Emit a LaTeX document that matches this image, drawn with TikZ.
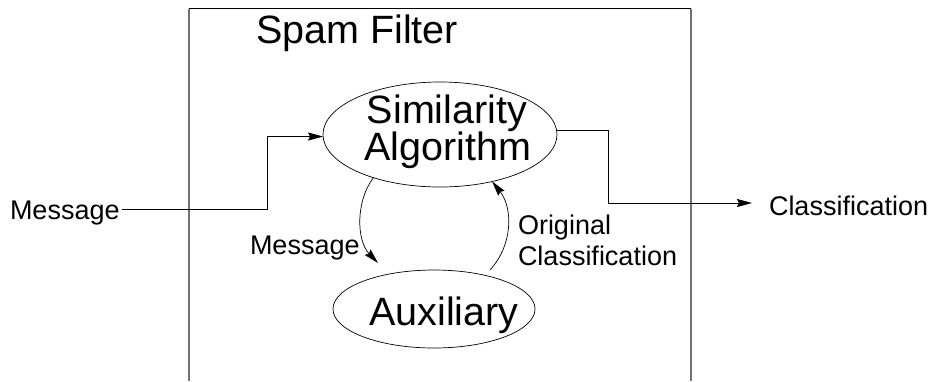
\documentclass[tikz,border=0pt]{standalone}
\usepackage{fontspec}
\setmainfont{Liberation Sans}
\usetikzlibrary{shapes.geometric,arrows.meta}
\begin{document}
\begin{tikzpicture}[x=1pt,y=-1pt,
  line width=0.7pt,
  big/.style={font=\fontsize{39.5}{40}\selectfont, inner sep=0pt, outer sep=0pt},
  small/.style={font=\fontsize{27}{31}\selectfont, inner sep=0pt, outer sep=0pt},
  oval/.style={draw, ellipse, inner sep=0pt, outer sep=0pt},
  arr/.style={-{Stealth[length=15pt,width=8pt,inset=2pt]}},
  boxside/.style={draw=black!55, line width=1.1pt}]
\path[use as bounding box] (0,0) rectangle (935,381);
% frame
\draw[boxside] (189,381) -- (189,8.5);
\draw[boxside] (691,381) -- (691,8.5);
\draw (189,8.5) -- (691,8.5);
\node[big, anchor=base west] (title) at (256,43) {Spam Filter};
% ellipses
\node[oval, minimum width=234pt, minimum height=105pt] (sim) at (440,134.5) {};
\node[big, anchor=base] (simA) at (447,123) {Similarity};
\node[big, anchor=base] (simB) at (448,160) {Algorithm};
\node[oval, minimum width=202pt, minimum height=78pt] (aux) at (434,309) {};
\node[big, anchor=base] (auxt) at (444,325) {Auxiliary};
% outside labels
\node[small, anchor=base west] (msgin) at (10,219) {Message};
\node[small, anchor=base west] (cls) at (769,215) {Classification};
\node[small, anchor=base west] (msglab) at (250,254) {Message};
\node[small, anchor=base west] (orig) at (518,234) {Original};
\node[small, anchor=base west] (origcls) at (518,265) {Classification};
% connectors
\coordinate (incorner) at (267,209);
\draw[arr] ([xshift=2pt,yshift=10pt]msgin.base east) -- (incorner) |- (sim.181);
\coordinate (outcorner) at (608,203);
\draw[arr] (sim.2) -| (outcorner) -- ([xshift=-17pt,yshift=12pt]cls.base west);
\coordinate (mtip) at (378,263);
\draw[arr] (sim.213) .. controls (356,200) and (356,240) .. (mtip);
\coordinate (ostart) at (490,270);
\draw[arr] (ostart) .. controls (513,245) and (513,208) .. (sim.318);
\end{tikzpicture}
\end{document}
